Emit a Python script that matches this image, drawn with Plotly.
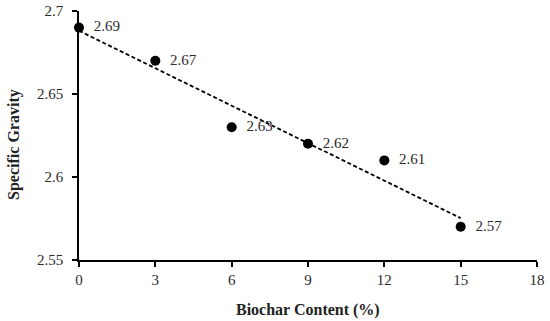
import numpy as np
import plotly.graph_objects as go

biochar = [0, 3, 6, 9, 12, 15]
sg = [2.69, 2.67, 2.63, 2.62, 2.61, 2.57]
x_ticks = [0, 3, 6, 9, 12, 15, 18]
y_ticks = [2.55, 2.6, 2.65, 2.7]
y_tick_text = ["2.55", "2.6", "2.65", "2.7"]

slope, intercept = np.polyfit(biochar, sg, 1)
trend_x = [biochar[0], biochar[-1]]
trend_y = [intercept + slope * v for v in trend_x]

FONT = "Liberation Serif"
TXT = "#2a2a2a"

fig = go.Figure()
fig.add_trace(go.Scatter(
    x=trend_x, y=trend_y, mode="lines",
    line=dict(color="black", width=1.8, dash="4px,2.5px"),
    hoverinfo="skip", showlegend=False,
))
fig.add_trace(go.Scatter(
    x=biochar, y=sg, mode="markers+text",
    marker=dict(color="black", size=10),
    text=[f"  {v:.2f}" for v in sg],
    textposition="middle right",
    textfont=dict(family=FONT, size=15, color=TXT),
    showlegend=False, cliponaxis=False,
))

fig.update_layout(
    width=550, height=321,
    margin=dict(l=79, r=13, t=11, b=61),
    paper_bgcolor="white", plot_bgcolor="white",
    font=dict(family=FONT, size=15, color=TXT),
    annotations=[
        dict(text="<b>Biochar Content (%)</b>", xref="paper", yref="paper",
             x=0.5, y=-0.20, xanchor="center", yanchor="middle",
             showarrow=False, font=dict(family=FONT, size=16, color="#222")),
        dict(text="<b>Specific Gravity</b>", xref="paper", yref="paper",
             x=-0.142, y=0.466, xanchor="center", yanchor="middle",
             textangle=-90, showarrow=False,
             font=dict(family=FONT, size=16, color="#222")),
    ],
)
fig.update_xaxes(
    range=[0, 18], tickvals=x_ticks, ticktext=[str(v) for v in x_ticks],
    showgrid=False, zeroline=False, automargin=False,
    showline=True, linecolor="black", linewidth=1.6,
    ticks="outside", ticklen=5, tickwidth=1.6, tickcolor="black",
)
fig.update_yaxes(
    range=[2.55, 2.7], tickvals=y_ticks, ticktext=y_tick_text,
    showgrid=False, zeroline=False, automargin=False,
    showline=True, linecolor="black", linewidth=1.6,
    ticks="outside", ticklen=5, tickwidth=1.6, tickcolor="black",
    ticklabelstandoff=6,
)

fig.write_html(
    "out.html",
    config={"displayModeBar": False},
    post_script="document.body.style.margin='0';document.body.style.overflow='hidden';",
)
